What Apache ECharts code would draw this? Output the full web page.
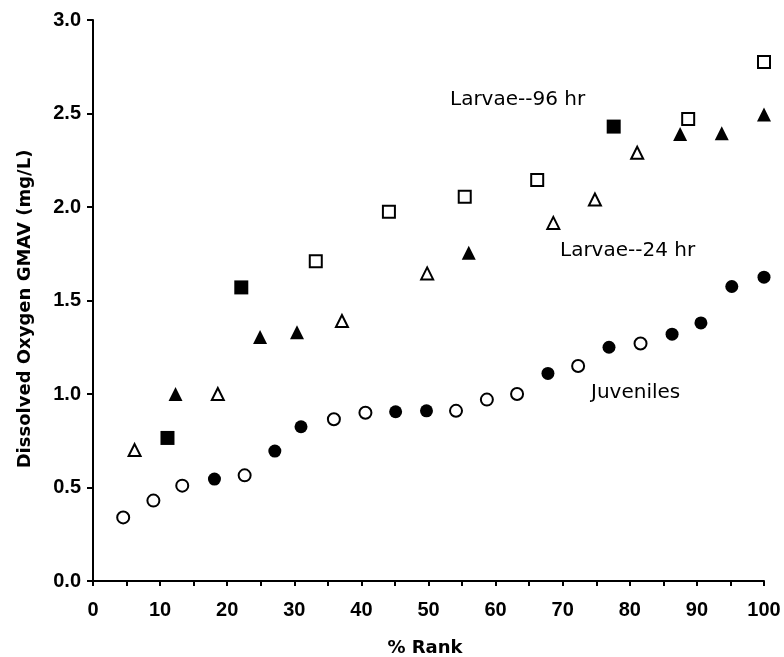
<!DOCTYPE html>
<html>
<head>
<meta charset="utf-8">
<script src="https://cdn.jsdelivr.net/npm/echarts@6/dist/echarts.min.js"></script>
<style>
html,body{margin:0;padding:0;background:#fff;}
#chart{width:784px;height:657px;}
</style>
</head>
<body>
<div id="chart"></div>
<script>
// % Rank, GMAV (mg/L)
var juvOpen = [[4.5,0.34],[9.0,0.43],[13.3,0.51],[22.6,0.565],[35.9,0.865],[40.6,0.90],[54.1,0.91],[58.7,0.97],[63.2,1.0],[72.3,1.15],[81.6,1.27]];
var juvFilled = [[18.1,0.545],[27.1,0.695],[31.0,0.825],[45.1,0.905],[49.7,0.91],[67.8,1.11],[76.9,1.25],[86.3,1.32],[90.6,1.38],[95.2,1.575],[100,1.625]];
var l24Open = [[6.2,0.70],[18.6,1.0],[37.1,1.39],[49.8,1.645],[68.6,1.915],[74.8,2.04],[81.1,2.29]];
var l24Filled = [[12.3,1.0],[24.9,1.305],[30.4,1.33],[56.0,1.755],[87.5,2.39],[93.7,2.395],[100,2.495]];
var l96Open = [[33.2,1.71],[44.1,1.975],[55.4,2.055],[66.2,2.145],[88.7,2.47],[100,2.775]];
var l96Filled = [[11.1,0.765],[22.1,1.57],[77.6,2.43]];
var xTicks = [0,10,20,30,40,50,60,70,80,90,100];
var yTicks = [0,0.5,1.0,1.5,2.0,2.5,3.0];
var xTitle = '% Rank';
var yTitle = 'Dissolved Oxygen GMAV (mg/L)';
var notes = ['Larvae--96 hr','Larvae--24 hr','Juveniles'];

var chart = echarts.init(document.getElementById('chart'), null, {renderer:'canvas'});
function mk(name, data, symbol, filled, size){
  return {
    name:name, type:'scatter', data:data, symbol:symbol, symbolSize:size,
    itemStyle:{color: filled ? '#000' : '#fff', borderColor:'#000', borderWidth: filled ? 0 : 2, opacity:1},
    emphasis:{disabled:true}, z:3
  };
}
var tickFont = {fontFamily:'Liberation Sans', fontWeight:'bold', fontSize:20, color:'#000'};
chart.setOption({
  animation:false,
  backgroundColor:'#fff',
  grid:{left:93, right:20, top:20, bottom:76, containLabel:false},
  xAxis:{
    type:'value', min:xTicks[0], max:xTicks[xTicks.length-1], interval:10,
    axisLine:{show:true, lineStyle:{color:'#000', width:2}},
    axisTick:{show:true, inside:false, length:5, lineStyle:{color:'#000', width:2}},
    minorTick:{show:true, splitNumber:2, length:5, lineStyle:{color:'#000', width:2}},
    splitLine:{show:false},
    axisLabel:Object.assign({margin:19}, tickFont)
  },
  yAxis:{
    type:'value', min:yTicks[0], max:yTicks[yTicks.length-1], interval:0.5,
    axisLine:{show:true, lineStyle:{color:'#000', width:2}},
    axisTick:{show:true, inside:false, length:6, lineStyle:{color:'#000', width:2}},
    splitLine:{show:false},
    axisLabel:Object.assign({margin:12, formatter:function(v){return v.toFixed(1);}}, tickFont)
  },
  graphic:[
    {type:'text', x:425, y:648, style:{text:xTitle, font:'bold 18px "DejaVu Sans"', fill:'#000', align:'center', verticalAlign:'middle'}},
    {type:'text', x:25, y:309, rotation:Math.PI/2, style:{text:yTitle, font:'bold 18px "DejaVu Sans"', fill:'#000', align:'center', verticalAlign:'middle'}},
    {type:'text', x:450, y:100, style:{text:notes[0], font:'20px "DejaVu Sans"', fill:'#000', align:'left', verticalAlign:'middle'}},
    {type:'text', x:560, y:251, style:{text:notes[1], font:'20px "DejaVu Sans"', fill:'#000', align:'left', verticalAlign:'middle'}},
    {type:'text', x:591, y:393, style:{text:notes[2], font:'20px "DejaVu Sans"', fill:'#000', align:'left', verticalAlign:'middle'}}
  ],
  series:[
    mk('Juveniles open', juvOpen, 'circle', false, 12),
    mk('Juveniles filled', juvFilled, 'circle', true, 13),
    mk('Larvae 24 hr open', l24Open, 'triangle', false, 12),
    mk('Larvae 24 hr filled', l24Filled, 'triangle', true, 14),
    mk('Larvae 96 hr open', l96Open, 'rect', false, 12),
    mk('Larvae 96 hr filled', l96Filled, 'rect', true, 14)
  ]
});
</script>
</body>
</html>
